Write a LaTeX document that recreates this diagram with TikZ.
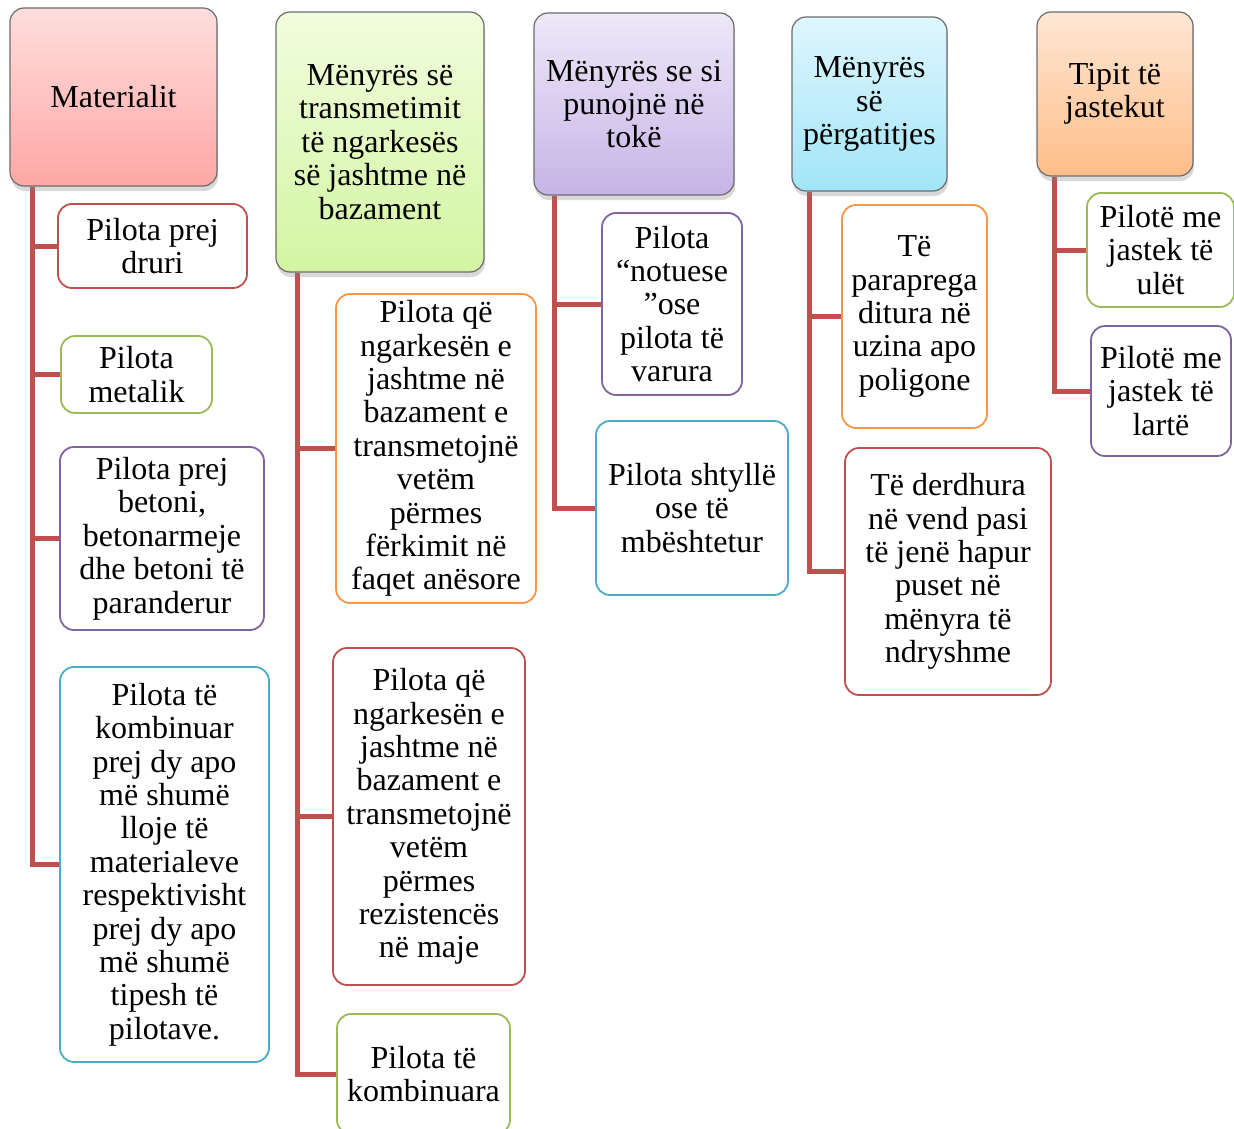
\documentclass[tikz,border=0pt]{standalone}
\usepackage{fontspec}
\setmainfont{Liberation Serif}
\usetikzlibrary{shadows, backgrounds}
\definecolor{linkred}{HTML}{C0504D}
\definecolor{accred}{HTML}{C0504D}
\definecolor{accgreen}{HTML}{9BBB59}
\definecolor{accpurple}{HTML}{8064A2}
\definecolor{accblue}{HTML}{4BACC6}
\definecolor{accorange}{HTML}{F79646}
\definecolor{pinktop}{HTML}{FFDEDD}
\definecolor{pinkbot}{HTML}{FFA7A5}
\definecolor{greentop}{HTML}{F1FDDE}
\definecolor{greenbot}{HTML}{D3F5A2}
\definecolor{lilactop}{HTML}{EEE8F8}
\definecolor{lilacbot}{HTML}{C6B4E6}
\definecolor{skytop}{HTML}{DFF6FD}
\definecolor{skybot}{HTML}{A2E5F8}
\definecolor{peachtop}{HTML}{FFE7D4}
\definecolor{peachbot}{HTML}{FFBD88}

\begin{document}
\begin{tikzpicture}[
  x=1pt, y=-1pt,
  every node/.style={font=\fontsize{32}{33.4}\selectfont},
  head/.style={draw=gray!85!black, line width=1.2pt, rounded corners=14pt, inner sep=0pt, align=center,
    drop shadow={shadow xshift=1pt, shadow yshift=-5pt, opacity=0.3}},
  leaf/.style={draw, fill=white, line width=1.8pt, rounded corners=14pt, inner sep=0pt, align=center},
  link/.style={linkred, line width=5pt}
]
  \useasboundingbox (0,0) rectangle (1234,1129);

  % top row
  \node[head, top color=pinktop, bottom color=pinkbot, minimum width=207pt, minimum height=178pt] (mat) at (113.5,97) {Materialit};
  \node[head, top color=greentop, bottom color=greenbot, minimum width=208pt, minimum height=260pt] (tra) at (380,142)
    {Mënyrës së\\transmetimit\\të ngarkesës\\së jashtme në\\bazament};
  \node[head, top color=lilactop, bottom color=lilacbot, minimum width=200pt, minimum height=182pt] (pun) at (634,104)
    {Mënyrës se si\\punojnë në\\tokë};
  \node[head, top color=skytop, bottom color=skybot, minimum width=155pt, minimum height=174pt] (per) at (869.5,104)
    {Mënyrës\\së\\përgatitjes};
  \node[head, top color=peachtop, bottom color=peachbot, minimum width=156pt, minimum height=164pt] (jas) at (1115,94)
    {Tipit të\\jastekut};

  % Materialit
  \node[leaf, draw=accred, minimum width=189pt, minimum height=84pt] (c11) at (152.5,246) {Pilota prej\\druri};
  \node[leaf, draw=accgreen, minimum width=151pt, minimum height=77pt] (c12) at (136.5,374.5) {Pilota\\metalik};
  \node[leaf, draw=accpurple, minimum width=204pt, minimum height=183pt] (c13) at (162,538.5)
    {Pilota prej\\betoni,\\betonarmeje\\dhe betoni të\\paranderur};
  \node[leaf, draw=accblue, minimum width=209pt, minimum height=395pt] (c14) at (164.5,864.5)
    {Pilota të\\kombinuar\\prej dy apo\\më shumë\\lloje të\\materialeve\\respektivisht\\prej dy apo\\më shumë\\tipesh të\\pilotave.};

  % transmetimit
  \node[leaf, draw=accorange, minimum width=200pt, minimum height=309pt] (c21) at (436,448.5)
    {Pilota që\\ngarkesën e\\jashtme në\\bazament e\\transmetojnë\\vetëm\\përmes\\fërkimit në\\faqet anësore};
  \node[leaf, draw=accred, minimum width=192pt, minimum height=337pt] (c22) at (429,816.5)
    {Pilota që\\ngarkesën e\\jashtme në\\bazament e\\transmetojnë\\vetëm\\përmes\\rezistencës\\në maje};
  \node[leaf, draw=accgreen, minimum width=173pt, minimum height=120pt] (c23) at (423.5,1074)
    {Pilota të\\kombinuara};

  % punojne ne toke
  \node[leaf, draw=accpurple, minimum width=140pt, minimum height=182pt] (c31) at (672,304)
    {Pilota\\“notuese\\”ose\\pilota të\\varura};
  \node[leaf, draw=accblue, minimum width=192pt, minimum height=174pt] (c32) at (692,508)
    {Pilota shtyllë\\ose të\\mbështetur};

  % pergatitjes
  \node[leaf, draw=accorange, minimum width=145pt, minimum height=223pt] (c41) at (914.5,316.5)
    {Të\\paraprega\\ditura në\\uzina apo\\poligone};
  \node[leaf, draw=accred, minimum width=206pt, minimum height=247pt] (c42) at (948,571.5)
    {Të derdhura\\në vend pasi\\të jenë hapur\\puset në\\mënyra të\\ndryshme};

  % jastekut
  \node[leaf, draw=accgreen, minimum width=147pt, minimum height=114pt] (c51) at (1160.5,250)
    {Pilotë me\\jastek të\\ulët};
  \node[leaf, draw=accpurple, minimum width=140pt, minimum height=130pt] (c52) at (1161,391)
    {Pilotë me\\jastek të\\lartë};

  \begin{scope}[on background layer]
    \foreach \c in {c11,c12,c13,c14}
      \draw[link] ([xshift=23pt]mat.south west) |- (\c.west);
    \foreach \c in {c21,c22,c23}
      \draw[link] ([xshift=22pt]tra.south west) |- (\c.west);
    \foreach \c in {c31,c32}
      \draw[link] ([xshift=21pt]pun.south west) |- (\c.west);
    \foreach \c in {c41,c42}
      \draw[link] ([xshift=18pt]per.south west) |- (\c.west);
    \foreach \c in {c51,c52}
      \draw[link] ([xshift=18pt]jas.south west) |- (\c.west);
  \end{scope}
\end{tikzpicture}
\end{document}
